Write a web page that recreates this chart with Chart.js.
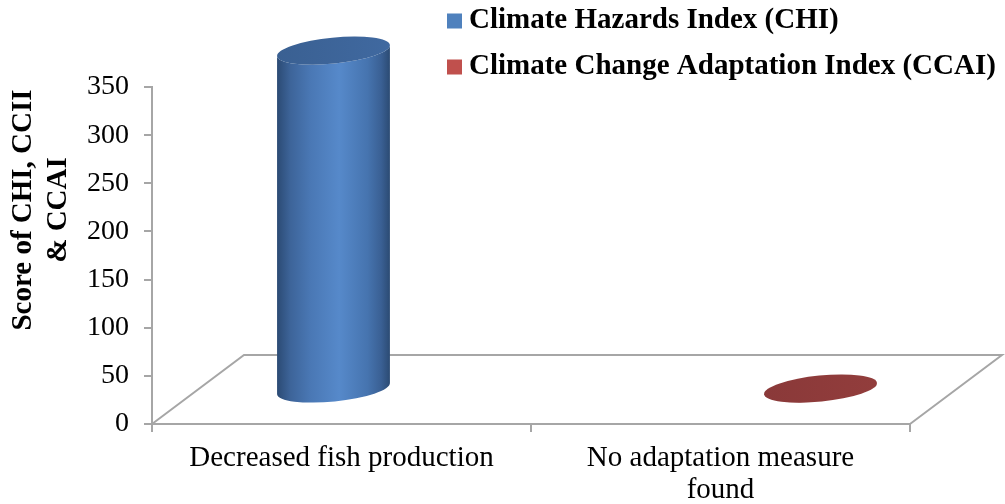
<!DOCTYPE html>
<html>
<head>
<meta charset="utf-8">
<script src="https://cdn.jsdelivr.net/npm/chart.js@4.4.1/dist/chart.umd.min.js"></script>
<style>
  html, body { margin: 0; padding: 0; background: #ffffff; }
  #wrap { width: 1005px; height: 504px; position: relative; }
</style>
</head>
<body>
<div id="wrap"><canvas id="chart" width="1005" height="504"></canvas></div>
<script>
// ---- data ----
const categories = ['Decreased fish production', ['No adaptation measure', 'found']];
const seriesNames = ['Climate Hazards Index (CHI)', 'Climate Change Adaptation Index (CCAI)'];
const chiValues = [352, null];
const ccaiValues = [null, 1];
const yTickMin = 0;
const yTickMax = 350;
const yTickStep = 50;
const yTitleLines = ['Score of CHI, CCII', '& CCAI'];

// ---- styling ----
const SERIF = "'Liberation Serif', 'Times New Roman', serif";
const AXIS_GREY = '#a6a6a6';
const DEPTH = { x: 92, y: -69 };           // offset of the back edge of the floor
const legendColors = ['#4f81bd', '#c0504d'];
const cylinderShades = [
  { side: ['#2b4a73', '#3d6499', '#4a78b5', '#5689ca', '#4674af', '#3a6094', '#2b4a72'], top: ['#3a6092', '#4069a0'] },
  { side: ['#6b2a2a', '#823535', '#8f3c3b', '#9a4341', '#8c3a39', '#7c3332', '#6a2a2a'], top: ['#8a3939', '#923d3c'] }
];

function sideGradient(ctx, x0, x1, stops) {
  const g = ctx.createLinearGradient(x0, 0, x1, 0);
  const pos = [0, 0.12, 0.3, 0.55, 0.8, 0.92, 1];
  stops.forEach((c, i) => g.addColorStop(pos[i], c));
  return g;
}

function drawCylinder(ctx, cx, yTop, yBase, a, shade) {
  const b = 13;          // minor radius of the elliptical faces
  const rot = -0.1;      // slight tilt of the faces
  const cr = Math.cos(rot), sr = Math.sin(rot);
  // side wall
  ctx.beginPath();
  ctx.moveTo(cx - a * cr, yTop - a * sr);
  ctx.lineTo(cx - a * cr, yBase - a * sr);
  ctx.ellipse(cx, yBase, a, b, rot, Math.PI, 0, true);
  ctx.lineTo(cx + a * cr, yTop + a * sr);
  ctx.ellipse(cx, yTop, a, b, rot, 0, Math.PI, false);
  ctx.closePath();
  ctx.fillStyle = sideGradient(ctx, cx - a, cx + a, shade.side);
  ctx.fill();
  // top face
  ctx.beginPath();
  ctx.ellipse(cx, yTop, a, b, rot, 0, Math.PI * 2);
  const tg = ctx.createLinearGradient(cx - a, 0, cx + a, 0);
  tg.addColorStop(0, shade.top[0]);
  tg.addColorStop(1, shade.top[1]);
  ctx.fillStyle = tg;
  ctx.fill();
}

const cylinderPlugin = {
  id: 'cylinders3d',
  beforeDatasetsDraw(chart) {
    const { ctx, chartArea: area } = chart;
    ctx.save();
    // floor of the 3-D plot
    ctx.strokeStyle = AXIS_GREY;
    ctx.lineWidth = 2;
    ctx.beginPath();
    ctx.moveTo(area.left, area.bottom);
    ctx.lineTo(area.left + DEPTH.x, area.bottom + DEPTH.y);
    ctx.lineTo(area.right + DEPTH.x, area.bottom + DEPTH.y);
    ctx.lineTo(area.right, area.bottom);
    ctx.stroke();
    // cylinders, placed half-way into the depth
    const dx = DEPTH.x / 2, dy = DEPTH.y / 2;
    chart.data.datasets.forEach((ds, di) => {
      const meta = chart.getDatasetMeta(di);
      meta.data.forEach((el, i) => {
        if (ds.data[i] === null || ds.data[i] === undefined) return;
        const p = el.getProps(['x', 'y', 'base', 'width'], true);
        drawCylinder(ctx, p.x + dx, p.y + dy, p.base + dy, p.width / 2 * 1.05, cylinderShades[di]);
      });
    });
    ctx.restore();
    return false;
  }
};

const annotationPlugin = {
  id: 'legendAndTitle',
  afterDraw(chart) {
    const { ctx } = chart;
    ctx.save();
    // legend, stacked in the top-right corner
    ctx.font = 'bold 29px ' + SERIF;
    ctx.textBaseline = 'middle';
    ctx.textAlign = 'left';
    chart.data.datasets.forEach((ds, i) => {
      const y = 21 + i * 46;
      ctx.fillStyle = ds.backgroundColor;
      ctx.fillRect(447, y - 7.5, 15, 15);
      ctx.fillStyle = '#000000';
      ctx.fillText(ds.label, 469, y);
    });
    // value-axis title, two rotated lines
    ctx.font = 'bold 29px ' + SERIF;
    ctx.textAlign = 'center';
    yTitleLines.forEach((line, i) => {
      ctx.save();
      ctx.translate(24 + i * 35, 210);
      ctx.rotate(-Math.PI / 2);
      ctx.fillText(line, 0, 0);
      ctx.restore();
    });
    ctx.restore();
  }
};

new Chart(document.getElementById('chart'), {
  type: 'bar',
  data: {
    labels: categories,
    datasets: [
      { label: seriesNames[0], data: chiValues, backgroundColor: legendColors[0] },
      { label: seriesNames[1], data: ccaiValues, backgroundColor: legendColors[1] }
    ]
  },
  options: {
    responsive: false,
    animation: false,
    devicePixelRatio: 1,
    categoryPercentage: 0.57,
    barPercentage: 1,
    layout: { padding: { top: 87, right: 95, left: 0, bottom: 0 } },
    plugins: { legend: { display: false }, tooltip: { enabled: false } },
    scales: {
      x: {
        grid: { display: true, drawOnChartArea: false, drawTicks: true, tickLength: 8, color: AXIS_GREY, lineWidth: 2, offset: true },
        border: { display: true, color: AXIS_GREY, width: 2 },
        ticks: { color: '#000000', font: { family: SERIF, size: 29, lineHeight: 1.12 }, padding: 10, maxRotation: 0, autoSkip: false },
        afterFit(scale) { scale.height = 80; }
      },
      y: {
        min: yTickMin,
        max: yTickMax,
        grid: { display: true, drawOnChartArea: false, drawTicks: true, tickLength: 8, color: AXIS_GREY, lineWidth: 2 },
        border: { display: true, color: AXIS_GREY, width: 2 },
        ticks: { stepSize: yTickStep, color: '#000000', font: { family: SERIF, size: 28 }, padding: 15 },
        afterFit(scale) { scale.width = 152; }
      }
    }
  },
  plugins: [cylinderPlugin, annotationPlugin]
});
</script>
</body>
</html>
